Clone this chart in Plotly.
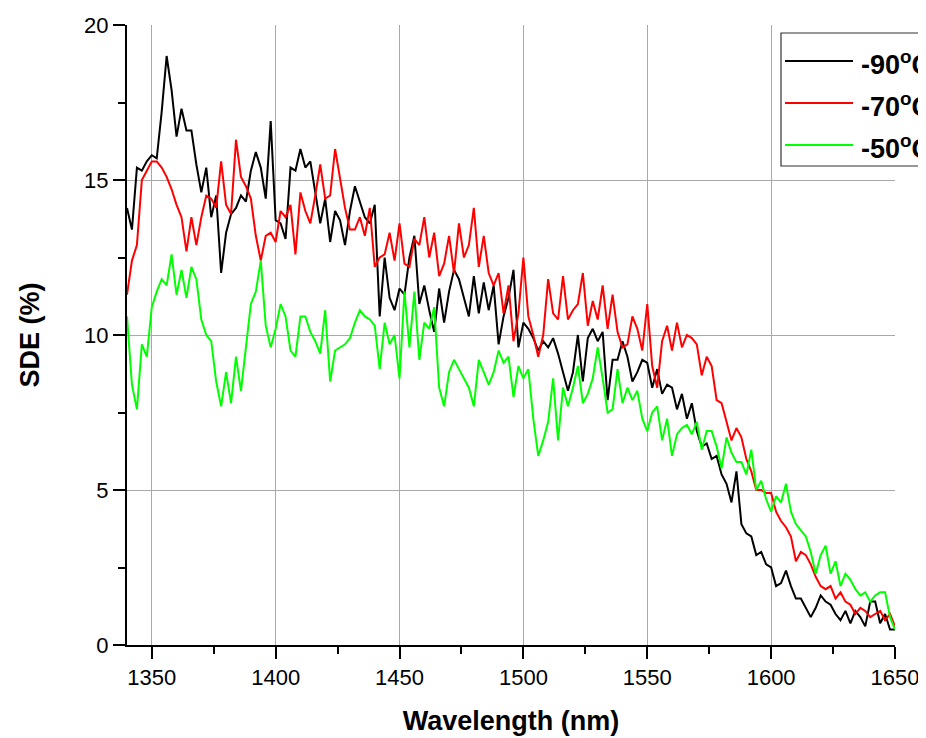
import plotly.graph_objects as go

wavelength = list(range(1340, 1651, 2))

sde_m90 = [
    14.1, 13.4, 15.4, 15.3, 15.6, 15.8, 15.7, 17.2, 19.0, 17.9,
    16.4, 17.3, 16.6, 16.6, 15.5, 14.6, 15.4, 13.8, 14.5, 12.0,
    13.3, 13.9, 14.1, 14.5, 14.3, 15.3, 15.9, 15.4, 14.4, 16.9,
    13.7, 13.6, 13.1, 15.4, 15.3, 16.0, 15.4, 15.6, 14.6, 13.6,
    14.4, 13.0, 14.0, 13.7, 12.9, 14.0, 14.8, 14.3, 13.8, 13.6,
    14.2, 10.6, 12.5, 11.2, 10.8, 11.5, 11.3, 12.5, 13.2, 11.0,
    11.6, 10.8, 10.1, 11.5, 10.4, 11.4, 12.1, 11.8, 11.2, 10.6,
    11.9, 10.7, 11.7, 10.8, 11.6, 9.7, 10.6, 11.2, 12.1, 9.6,
    10.4, 10.2, 9.9, 9.5, 9.8, 9.6, 9.9, 9.4, 8.8, 8.2,
    8.8, 10.0, 8.5, 9.9, 10.2, 9.8, 10.1, 7.9, 9.2, 9.2,
    9.8, 9.3, 8.5, 8.8, 9.2, 9.1, 8.3, 8.9, 8.1, 8.4,
    8.3, 7.6, 8.1, 7.3, 7.8, 6.9, 6.4, 6.5, 6.0, 6.1,
    5.5, 5.2, 4.6, 5.6, 3.9, 3.6, 3.5, 2.9, 3.0, 2.6,
    2.5, 1.9, 2.0, 2.4, 1.9, 1.5, 1.5, 1.2, 0.9, 1.2,
    1.6, 1.4, 1.3, 1.0, 0.8, 1.1, 0.7, 1.1, 0.9, 0.6,
    1.4, 1.4, 0.7, 1.0, 0.5, 0.5,
]

sde_m70 = [
    11.3, 12.4, 12.9, 15.0, 15.3, 15.6, 15.6, 15.4, 15.1, 14.7,
    14.2, 13.8, 12.7, 13.8, 12.9, 13.8, 14.5, 14.4, 14.1, 15.6,
    14.2, 13.9, 16.3, 15.1, 14.8, 14.4, 13.2, 12.4, 13.2, 13.3,
    13.0, 14.0, 13.8, 14.2, 12.6, 14.6, 14.0, 13.6, 14.5, 15.5,
    14.4, 14.5, 16.0, 15.0, 14.1, 13.4, 13.4, 13.8, 13.2, 14.1,
    12.2, 12.5, 12.6, 13.3, 12.4, 13.6, 12.3, 12.2, 13.1, 12.9,
    13.8, 12.5, 13.3, 11.9, 12.3, 13.2, 12.0, 13.6, 12.5, 12.9,
    14.1, 12.2, 13.2, 12.0, 11.6, 12.0, 10.7, 11.6, 9.8, 10.7,
    12.5, 10.6, 10.0, 9.3, 10.0, 11.8, 10.7, 10.5, 11.9, 10.5,
    10.8, 11.0, 12.0, 10.3, 11.1, 10.5, 11.6, 10.2, 11.3, 10.1,
    9.6, 9.7, 10.6, 10.2, 9.5, 11.0, 9.0, 8.3, 9.8, 10.3,
    9.5, 10.4, 9.6, 10.0, 9.9, 9.7, 8.7, 9.3, 9.0, 7.9,
    7.8, 7.2, 6.6, 7.0, 6.7, 6.0, 5.6, 5.0, 5.0, 4.9,
    4.9, 4.3, 4.0, 3.8, 3.5, 2.7, 3.0, 2.9, 2.6, 2.2,
    1.9, 1.8, 1.9, 1.5, 1.7, 1.4, 1.3, 1.0, 1.2, 1.1,
    0.9, 1.0, 1.1, 0.8, 1.0, 0.6,
]

sde_m50 = [
    10.6, 8.4, 7.6, 9.7, 9.3, 10.9, 11.4, 11.8, 11.6, 12.6,
    11.3, 12.1, 11.2, 12.2, 11.8, 10.5, 10.0, 9.8, 8.5, 7.7,
    8.8, 7.8, 9.3, 8.2, 9.6, 11.0, 11.4, 12.4, 10.3, 9.6,
    10.2, 11.0, 10.6, 9.5, 9.3, 10.6, 10.6, 10.1, 9.8, 9.4,
    10.8, 8.5, 9.5, 9.6, 9.7, 9.9, 10.4, 10.8, 10.6, 10.5,
    10.3, 8.9, 10.4, 9.7, 10.0, 8.6, 11.4, 9.6, 11.4, 9.2,
    10.4, 10.2, 10.9, 8.3, 7.7, 8.8, 9.2, 8.9, 8.6, 8.3,
    7.7, 9.2, 8.8, 8.4, 8.8, 9.5, 9.1, 9.3, 8.0, 9.0,
    8.6, 8.9, 7.3, 6.1, 6.6, 7.2, 8.6, 6.6, 8.3, 7.7,
    8.3, 9.0, 7.8, 8.1, 8.6, 9.6, 8.6, 7.5, 7.6, 8.9,
    7.8, 8.3, 7.9, 8.2, 7.3, 6.9, 7.5, 7.7, 6.6, 7.3,
    6.1, 6.8, 7.0, 7.1, 6.8, 7.2, 6.3, 6.9, 6.9, 6.4,
    5.7, 6.7, 6.2, 5.9, 5.9, 5.5, 6.3, 5.0, 5.3, 4.7,
    4.3, 4.8, 4.6, 5.2, 4.3, 3.9, 3.7, 3.5, 3.0, 2.3,
    2.9, 3.2, 2.3, 2.7, 1.9, 2.3, 2.1, 1.8, 1.6, 1.7,
    1.4, 1.6, 1.7, 1.7, 0.9, 0.5,
]

series_names = ["-90<sup>o</sup>C", "-70<sup>o</sup>C", "-50<sup>o</sup>C"]
series_colors = ["#000000", "#ff0000", "#00ff00"]
series_values = [sde_m90, sde_m70, sde_m50]

x_ticks = [1350, 1400, 1450, 1500, 1550, 1600, 1650]
x_minor = [1375, 1425, 1475, 1525, 1575, 1625]
y_ticks = [0, 5, 10, 15, 20]
y_minor = [2.5, 7.5, 12.5, 17.5]

FONT = "Liberation Sans, Arial, sans-serif"

# page offset of the figure (body margin) and plot area in page pixels
OFF = 8
L, R, T, B = 127, 895, 25, 645
W, H = 926, 738

fig = go.Figure()
for name, col, vals in zip(series_names, series_colors, series_values):
    fig.add_trace(go.Scatter(x=wavelength, y=vals, mode="lines", name=name,
                             line=dict(color=col, width=2), showlegend=False))

def px2paper_x(px):
    return (px - L) / (R - L)

def px2paper_y(py):
    return (B - py) / (B - T)

shapes = []
annotations = []
# legend box (manual legend)
shapes.append(dict(type="rect", xref="paper", yref="paper",
                   x0=px2paper_x(781), x1=px2paper_x(945),
                   y0=px2paper_y(166), y1=px2paper_y(33),
                   line=dict(color="#333333", width=1.2), fillcolor="white", layer="above"))
leg_y = [61, 103, 145]
for name, col, py in zip(series_names, series_colors, leg_y):
    shapes.append(dict(type="line", xref="paper", yref="paper",
                       x0=px2paper_x(785), x1=px2paper_x(853),
                       y0=px2paper_y(py), y1=px2paper_y(py),
                       line=dict(color=col, width=2), layer="above"))
    annotations.append(dict(xref="paper", yref="paper", x=px2paper_x(859), y=px2paper_y(py + 2),
                            xanchor="left", yanchor="middle", showarrow=False,
                            text="<b>" + name + "</b>",
                            font=dict(family=FONT, size=27, color="black")))

fig.update_layout(
    width=W, height=H,
    margin=dict(l=L - OFF, r=W - (R - OFF), t=T - OFF, b=H - (B - OFF)),
    paper_bgcolor="white", plot_bgcolor="white",
    font=dict(family=FONT, color="black"),
    shapes=shapes, annotations=annotations,
    showlegend=False,
)

fig.update_xaxes(
    range=[1340, 1650], tickmode="array", tickvals=x_ticks,
    ticktext=[str(v) for v in x_ticks],
    showline=True, linecolor="black", linewidth=2,
    ticks="outside", ticklen=12, tickwidth=2, tickcolor="black",
    tickfont=dict(family=FONT, size=22, color="black"),
    showgrid=True, gridcolor="#a8a8a8", gridwidth=1, zeroline=False,
    minor=dict(tickvals=x_minor, ticks="outside",
               ticklen=7, tickwidth=2, tickcolor="black", showgrid=False),
    title=dict(text="<b>Wavelength (nm)</b>", font=dict(family=FONT, size=27, color="black"), standoff=22),
    automargin=False,
)
fig.update_yaxes(
    range=[0, 20], tickmode="array", tickvals=y_ticks,
    ticktext=[str(v) for v in y_ticks],
    showline=True, linecolor="black", linewidth=2,
    ticks="outside", ticklen=12, tickwidth=2, tickcolor="black",
    tickfont=dict(family=FONT, size=22, color="black"),
    showgrid=True, gridcolor="#a8a8a8", gridwidth=1, zeroline=False,
    minor=dict(tickvals=y_minor, ticks="outside",
               ticklen=7, tickwidth=2, tickcolor="black", showgrid=False),
    title=dict(text="<b>SDE (%)</b>", font=dict(family=FONT, size=27, color="black"), standoff=37),
    automargin=False,
)

fig.write_html("out.html")
